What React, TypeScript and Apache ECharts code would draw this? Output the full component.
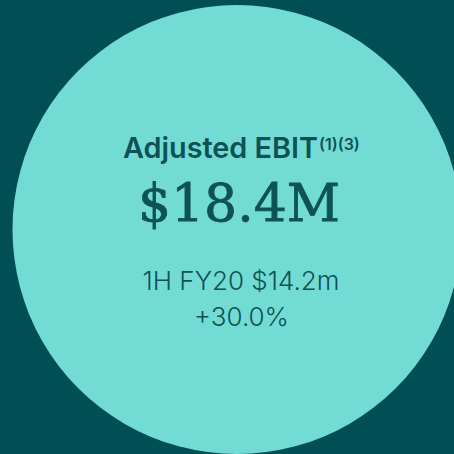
import React, { useEffect, useRef } from "react";
import * as echarts from "echarts";

const title = "Adjusted EBIT";
const footnotes = "(1)(3)";
const headlineValue = "$18.4M";
const comparison = "1H FY20 $14.2m";
const growth = "+30.0%";

const BG = "#004F55";
const CIRCLE = "#72DCD4";
const INK = "#0E5256";

export default function App() {
  const ref = useRef<HTMLDivElement>(null);
  useEffect(() => {
    if (!ref.current) return;
    const chart = echarts.init(ref.current, undefined, { renderer: "svg" });
    chart.setOption({
      animation: false,
      backgroundColor: BG,
      graphic: [
        {
          type: "circle",
          shape: { cx: 237, cy: 229.5, r: 224.5 },
          style: { fill: CIRCLE },
        },
        {
          type: "text",
          x: 318,
          y: 147,
          style: {
            text: title,
            fill: INK,
            font: "600 28.8px Inter",
            align: "right",
            verticalAlign: "middle",
          },
        },
        {
          type: "text",
          x: 319,
          y: 144,
          style: {
            text: footnotes,
            fill: INK,
            font: "600 16px Inter",
            align: "left",
            verticalAlign: "middle",
          },
        },
        {
          type: "text",
          x: 239,
          y: 203,
          style: {
            text: headlineValue,
            fill: INK,
            stroke: INK,
            lineWidth: 0.8,
            font: "400 52px 'DejaVu Serif'",
            align: "center",
            verticalAlign: "middle",
          },
        },
        {
          type: "text",
          x: 241,
          y: 280,
          style: {
            text: comparison,
            fill: INK,
            font: "300 26px Inter",
            align: "center",
            verticalAlign: "middle",
          },
        },
        {
          type: "text",
          x: 241.5,
          y: 316,
          style: {
            text: growth,
            fill: INK,
            font: "300 26px Inter",
            align: "center",
            verticalAlign: "middle",
          },
        },
      ],
    });
    return () => chart.dispose();
  }, []);
  return (
    <div
      ref={ref}
      style={{ position: "fixed", left: 0, top: 0, width: 454, height: 454 }}
    />
  );
}
